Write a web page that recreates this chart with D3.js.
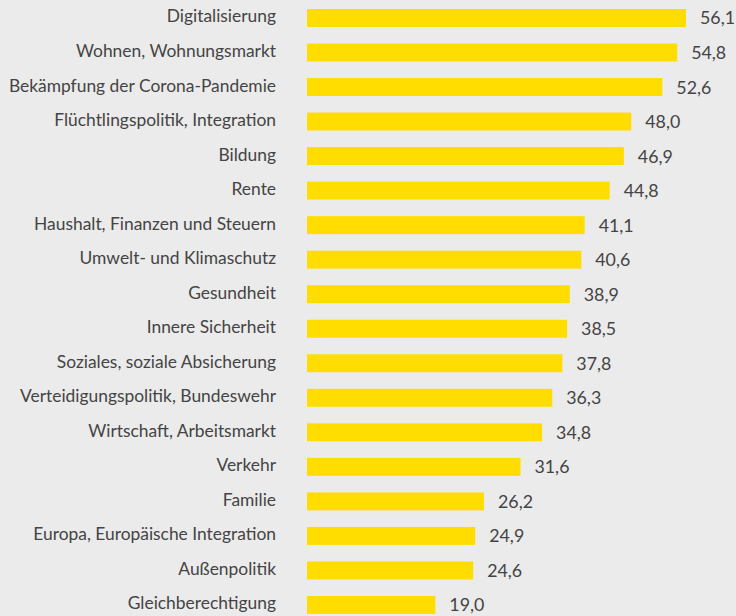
<!DOCTYPE html>
<html>
<head>
<meta charset="utf-8">
<script src="https://cdn.jsdelivr.net/npm/d3@7"></script>
<style>
  html, body { margin: 0; padding: 0; background: #ebebeb; }
  svg { display: block; font-family: Lato, "Open Sans", sans-serif; }
</style>
</head>
<body>
<svg id="chart" width="736" height="616"></svg>
<script>
// Themen und Werte (in Prozent)
var categories = [
  "Digitalisierung",
  "Wohnen, Wohnungsmarkt",
  "Bekämpfung der Corona-Pandemie",
  "Flüchtlingspolitik, Integration",
  "Bildung",
  "Rente",
  "Haushalt, Finanzen und Steuern",
  "Umwelt- und Klimaschutz",
  "Gesundheit",
  "Innere Sicherheit",
  "Soziales, soziale Absicherung",
  "Verteidigungspolitik, Bundeswehr",
  "Wirtschaft, Arbeitsmarkt",
  "Verkehr",
  "Familie",
  "Europa, Europäische Integration",
  "Außenpolitik",
  "Gleichberechtigung"
];
var values = [56.1, 54.8, 52.6, 48.0, 46.9, 44.8, 41.1, 40.6, 38.9, 38.5, 37.8, 36.3, 34.8, 31.6, 26.2, 24.9, 24.6, 19.0];

var svg = d3.select("#chart");

// Bars start at x=307, 56,1 ends near x=686.
var x = d3.scaleLinear()
    .domain([0, 56.1])
    .range([307, 686]);

var step = 34.53;
var y = d3.scaleBand()
    .domain(categories)
    .range([0.7, 0.7 + categories.length * step])
    .paddingInner(0.48)
    .paddingOuter(0.24);

var fmt = function(v){ return d3.format(".1f")(v).replace(".", ","); };

var rows = svg.selectAll("g.row")
    .data(categories)
    .enter()
    .append("g")
    .attr("class", "row");

rows.append("rect")
    .attr("x", x(0))
    .attr("y", function(d){ return y(d); })
    .attr("width", function(d, i){ return x(values[i]) - x(0); })
    .attr("height", y.bandwidth())
    .style("fill", "#ffdd00");

// Category labels, right aligned left of the bars.
rows.append("text")
    .attr("x", 276)
    .attr("y", function(d){ return y(d) + y.bandwidth() / 2 + 4.5; })
    .attr("text-anchor", "end")
    .style("font-size", "17.4px")
    .style("fill", "#444")
    .text(function(d){ return d; });

// Value labels, a little below the bar centre.
rows.append("text")
    .attr("x", function(d, i){ return x(values[i]) + 14; })
    .attr("y", function(d){ return y(d) + y.bandwidth() / 2 + 6.5; })
    .style("font-size", "17.8px")
    .style("fill", "#444")
    .text(function(d, i){ return fmt(values[i]); });
</script>
</body>
</html>
